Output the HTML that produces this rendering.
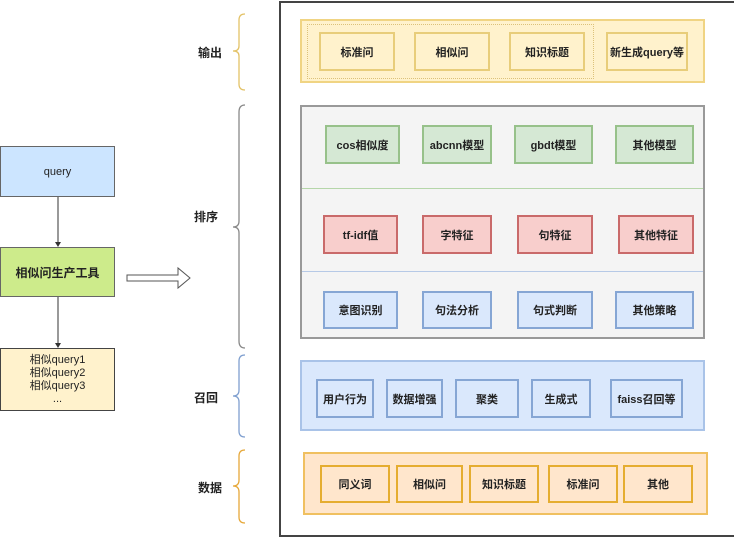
<!DOCTYPE html>
<html><head><meta charset="utf-8"><style>
body{margin:0;width:734px;height:538px;background:#fff;position:relative;overflow:hidden;font-family:"Liberation Sans","Noto Sans CJK SC",sans-serif;font-size:11px;font-weight:bold;color:#222}
.b{position:absolute;box-sizing:border-box;display:flex;align-items:center;justify-content:center;text-align:center}
.y{background:#fff2cc;border:2px solid #e8cd7a}
.g{background:#d5e8d4;border:2px solid #97c18a}
.r{background:#f8cecc;border:2px solid #c96a6a}
.u{background:#dae8fc;border:2px solid #86a6d4}
.o{background:#ffe6cc;border:2px solid #e5ad30}
.l{position:absolute;font-size:12px}
</style></head><body>
<div class="b" style="left:279px;top:1px;width:455px;height:536px;border:2px solid #444;border-right:none"></div>

<div class="b" style="left:300px;top:19px;width:405px;height:64px;background:#fff2cc;border:2px solid #f0d483"></div>
<div class="b" style="left:307px;top:24px;width:287px;height:55px;border:1px dotted #dcc27a"></div>
<div class="b y" style="left:319px;top:32px;width:76px;height:39px">标准问</div>
<div class="b y" style="left:414px;top:32px;width:76px;height:39px">相似问</div>
<div class="b y" style="left:509px;top:32px;width:76px;height:39px">知识标题</div>
<div class="b y" style="left:606px;top:32px;width:82px;height:39px">新生成query等</div>

<div class="b" style="left:300px;top:105px;width:405px;height:234px;background:#f4f4f4;border:2px solid #999"></div>
<div style="position:absolute;left:302px;top:188px;width:401px;height:1px;background:#b5d6a9"></div>
<div style="position:absolute;left:302px;top:271px;width:401px;height:1px;background:#b6c9e6"></div>
<div class="b g" style="left:325px;top:125px;width:75px;height:39px">cos相似度</div>
<div class="b g" style="left:422px;top:125px;width:70px;height:39px">abcnn模型</div>
<div class="b g" style="left:514px;top:125px;width:79px;height:39px">gbdt模型</div>
<div class="b g" style="left:615px;top:125px;width:79px;height:39px">其他模型</div>
<div class="b r" style="left:323px;top:215px;width:75px;height:39px">tf-idf值</div>
<div class="b r" style="left:422px;top:215px;width:70px;height:39px">字特征</div>
<div class="b r" style="left:517px;top:215px;width:76px;height:39px">句特征</div>
<div class="b r" style="left:618px;top:215px;width:76px;height:39px">其他特征</div>
<div class="b u" style="left:323px;top:291px;width:75px;height:38px">意图识别</div>
<div class="b u" style="left:422px;top:291px;width:70px;height:38px">句法分析</div>
<div class="b u" style="left:517px;top:291px;width:76px;height:38px">句式判断</div>
<div class="b u" style="left:615px;top:291px;width:79px;height:38px">其他策略</div>

<div class="b" style="left:300px;top:360px;width:405px;height:71px;background:#dae8fc;border:2px solid #a9c3e8"></div>
<div class="b u" style="left:316px;top:379px;width:58px;height:39px">用户行为</div>
<div class="b u" style="left:386px;top:379px;width:57px;height:39px">数据增强</div>
<div class="b u" style="left:455px;top:379px;width:64px;height:39px">聚类</div>
<div class="b u" style="left:531px;top:379px;width:60px;height:39px">生成式</div>
<div class="b u" style="left:610px;top:379px;width:73px;height:39px">faiss召回等</div>

<div class="b" style="left:303px;top:452px;width:405px;height:63px;background:#ffe6cc;border:2px solid #f0c060"></div>
<div class="b o" style="left:320px;top:465px;width:70px;height:38px">同义词</div>
<div class="b o" style="left:396px;top:465px;width:67px;height:38px">相似问</div>
<div class="b o" style="left:469px;top:465px;width:70px;height:38px">知识标题</div>
<div class="b o" style="left:548px;top:465px;width:70px;height:38px">标准问</div>
<div class="b o" style="left:623px;top:465px;width:70px;height:38px">其他</div>

<div class="l" style="left:198px;top:44px">输出</div>
<div class="l" style="left:194px;top:208px">排序</div>
<div class="l" style="left:194px;top:389px">召回</div>
<div class="l" style="left:198px;top:479px">数据</div>

<svg style="position:absolute;left:0;top:0" width="734" height="538">
<g fill="none" stroke-width="1.3">
<path d="M245,14 Q239,14 239,20 L239,46 Q239,51 233,51 Q239,51 239,56 L239,84 Q239,90 245,90" stroke="#e3c267"/>
<path d="M245,105 Q239,105 239,112 L239,221 Q239,227 233,227 Q239,227 239,233 L239,341 Q239,348 245,348" stroke="#888"/>
<path d="M245,355 Q239,355 239,361 L239,390 Q239,396 233,396 Q239,396 239,402 L239,431 Q239,437 245,437" stroke="#7f9fcf"/>
<path d="M245,450 Q239,450 239,456 L239,480 Q239,486 233,486 Q239,486 239,492 L239,517 Q239,523 245,523" stroke="#e6a83a"/>
</g>
<line x1="58" y1="197" x2="58" y2="243" stroke="#333"/>
<path d="M55,242 L58,247 L61,242Z" fill="#333"/>
<line x1="58" y1="297" x2="58" y2="344" stroke="#333"/>
<path d="M55,343 L58,348 L61,343Z" fill="#333"/>
<path d="M127,275 L178,275 L178,268 L190,278 L178,288 L178,281 L127,281Z" fill="#fff" stroke="#555"/>
</svg>
<div class="b" style="left:0;top:146px;width:115px;height:51px;background:#cce5ff;border:1px solid #666;font-weight:normal">query</div>
<div class="b" style="left:0;top:247px;width:115px;height:50px;background:#cdeb8b;border:1px solid #666;font-size:12px">相似问生产工具</div>
<div class="b" style="left:0;top:348px;width:115px;height:63px;background:#fff2cc;border:1px solid #444;font-weight:normal;line-height:13px">相似query1<br>相似query2<br>相似query3<br>...</div>
</body></html>
